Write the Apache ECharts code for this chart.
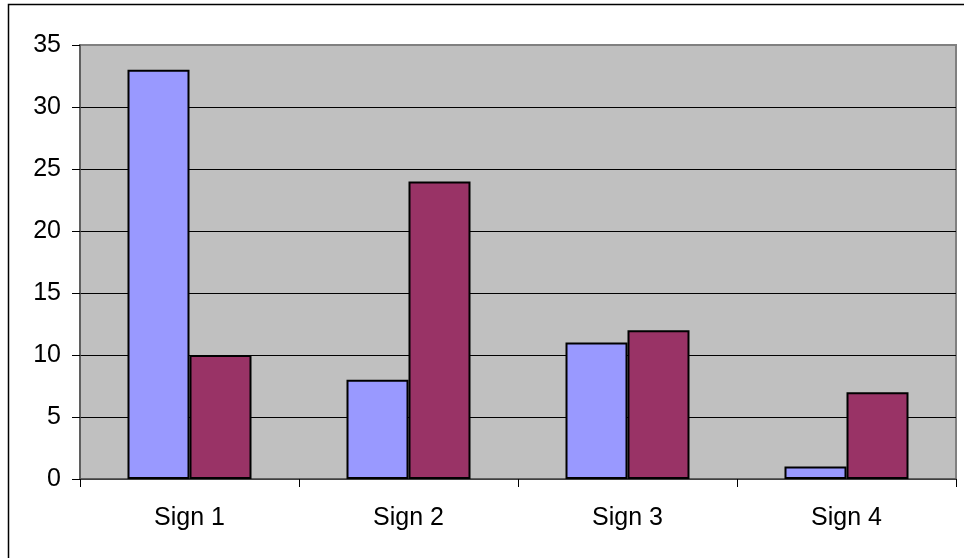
<!DOCTYPE html>
<html>
<head>
<meta charset="utf-8">
<script src="https://cdn.jsdelivr.net/npm/echarts@6/dist/echarts.min.js"></script>
<style>html,body{margin:0;padding:0;background:#fff;}#c{width:964px;height:558px;}</style>
</head>
<body>
<div id="c"></div>
<script>
const categories = ['Sign 1', 'Sign 2', 'Sign 3', 'Sign 4'];
const seriesA = [33, 8, 11, 1];
const seriesB = [10, 24, 12, 7];
const yMin = 0, yMax = 35, yInterval = 5;

const chart = echarts.init(document.getElementById('c'), null, {renderer: 'canvas'});
const font = {fontFamily: '"Liberation Sans", Arial, sans-serif', fontSize: 25, color: '#000'};
chart.setOption({
  animation: false,
  backgroundColor: '#fff',
  graphic: [{
    type: 'rect', z: 100,
    shape: {x: 8.5, y: 4.5, width: 1000, height: 600},
    style: {fill: 'none', stroke: '#000', lineWidth: 1.5}
  }],
  grid: {
    left: 80, right: 8, top: 45, bottom: 79,
    show: true, backgroundColor: '#C0C0C0', borderColor: '#808080', borderWidth: 2
  },
  xAxis: {
    type: 'category', data: categories,
    axisLine: {lineStyle: {color: '#555', width: 1.5}},
    axisTick: {show: true, length: 8, lineStyle: {color: '#000'}},
    axisLabel: Object.assign({margin: 27}, font)
  },
  yAxis: {
    type: 'value', min: yMin, max: yMax, interval: yInterval,
    axisLine: {show: true, lineStyle: {color: '#555', width: 1.5}},
    axisTick: {show: true, length: 8, lineStyle: {color: '#000'}},
    axisLabel: Object.assign({margin: 19}, font),
    splitLine: {show: true, lineStyle: {color: ['#000','#000','#000','#000','#000','#000','#000','#808080'], width: 1}}
  },
  series: [
    {type: 'bar', data: seriesA, barWidth: 62, barGap: '0%',
     itemStyle: {color: '#9999FF', borderColor: '#000', borderWidth: 2}},
    {type: 'bar', data: seriesB, barWidth: 62, barGap: '0%',
     itemStyle: {color: '#993366', borderColor: '#000', borderWidth: 2}}
  ]
});
</script>
</body>
</html>
